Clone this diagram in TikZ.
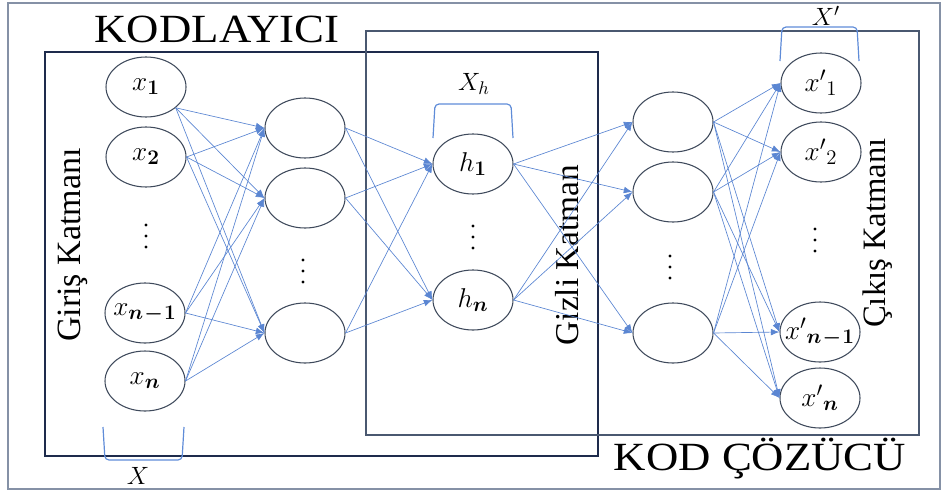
\RequirePackage{fix-cm}
\documentclass[tikz,border=0pt]{standalone}
\usepackage{amsmath}
\usepackage{fontspec}
\newfontfamily\tnr{Liberation Serif}
\usetikzlibrary{shapes.geometric,arrows.meta}
\DeclareMathSizes{17}{17}{13}{10}
\DeclareMathSizes{15}{15}{11}{9}

\definecolor{nodegray}{HTML}{3F4A5C}
\definecolor{linkblue}{HTML}{5B86D2}
\definecolor{bracketblue}{HTML}{5F8CD8}
\definecolor{encframe}{HTML}{1E2B4C}
\definecolor{decframe}{HTML}{4A5870}
\definecolor{outerframe}{HTML}{8591A6}

% enlarged math labels; neuron labels take no width so every ellipse keeps its size
\newcommand\neulab[1]{\makebox[0pt]{\scalebox{1.2}{$#1$}}}
\newcommand\setlab[1]{\scalebox{1.25}{$#1$}}
\newcommand\nmone{\boldsymbol{n}\mskip1mu\boldsymbol{-}\mskip1mu\boldsymbol{1}}

\begin{document}
\begin{tikzpicture}[x=0.75pt,y=-0.75pt,
  neuron/.style={ellipse,draw=nodegray,line width=0.8pt,fill=white,
    minimum width=60pt,minimum height=45pt,inner sep=0pt,
    font=\fontsize{17}{20}\selectfont},
  link/.style={draw=linkblue,line width=0.5pt,-{Latex[length=6.5pt,width=5pt]}},
  brace/.style={draw=bracketblue,line width=0.9pt,rounded corners=3pt},
  setlabel/.style={font=\fontsize{15}{18}\selectfont,inner sep=0pt},
  title/.style={font=\tnr,inner sep=0pt,anchor=base},
  sidelabel/.style={font=\tnr,inner sep=0pt,anchor=base,rotate=90},
  dotfill/.style={fill=black}]

\useasboundingbox (0,0) rectangle (946,493);

% frames
\draw[outerframe,line width=1.6pt] (8,3) rectangle (940,489);
\draw[encframe,line width=0.9pt] (45,52) rectangle (598,456);
\draw[decframe,line width=1.2pt] (366,31) rectangle (919,435);

% titles
\node[title] (enc) at (217,42) {\scalebox{1.12}[1]{\fontsize{30}{36}\selectfont KODLAYICI}};
\node[title] (dec) at (760,470) {\scalebox{1.12}[1]{\fontsize{30}{36}\selectfont KOD ÇÖZÜCÜ}};

% side labels
\node[sidelabel] (lin) at (80,245) {\fontsize{25.5}{30}\selectfont Giriş Katmanı};
\node[sidelabel] (lhid) at (578,255) {\fontsize{25}{30}\selectfont Gizli Katman};
\node[sidelabel] (lout) at (885,233) {\fontsize{24.5}{30}\selectfont Çıkış Katmanı};

% input layer
\node[neuron] (x1) at (146,87) {\neulab{x_{\boldsymbol{1}}}};
\node[neuron] (x2) at (146,157) {\neulab{x_{\boldsymbol{2}}}};
\node[neuron] (xm) at (145,313) {\neulab{x_{\nmone}}};
\node[neuron] (xn) at (145,381) {\neulab{x_{\boldsymbol{n}}}};

% encoder hidden layer
\node[neuron] (a1) at (305,128) {};
\node[neuron] (a2) at (305,198) {};
\node[neuron] (a3) at (305,333) {};

% code layer
\node[neuron] (h1) at (473,164) {\neulab{h_{\boldsymbol{1}}}};
\node[neuron] (hn) at (473,300) {\neulab{h_{\boldsymbol{n}}}};

% decoder hidden layer
\node[neuron] (b1) at (673,122) {};
\node[neuron] (b2) at (673,192) {};
\node[neuron] (b3) at (673,333) {};

% output layer
\node[neuron] (y1) at (821,83) {\neulab{{x'}_{1}}};
\node[neuron] (y2) at (821,152) {\neulab{{x'}_{2}}};
\node[neuron] (ym) at (820,332) {\neulab{{x'}_{\nmone}}};
\node[neuron] (yn) at (820,398) {\neulab{{x'}_{\boldsymbol{n}}}};

% vertical ellipses
\foreach \cx/\cy in {146/236, 303/271, 473/237, 670/267, 815/240}
  \foreach \d in {-11,0,11}
    \fill[dotfill] (\cx,\cy+\d) circle (1.3pt);

% connections
\foreach \s in {x1.-35,x2.east,xm.east,xn.east}
  \foreach \t in {a1,a2,a3}
    \draw[link] (\s) -- (\t.west);
\foreach \s in {a1,a2,a3}
  \foreach \t in {h1,hn}
    \draw[link] (\s.east) -- (\t.west);
\foreach \s in {h1,hn}
  \foreach \t in {b1,b2,b3}
    \draw[link] (\s.east) -- (\t.west);
\foreach \s in {b1,b2,b3}
  \foreach \t in {y1,y2,ym,yn}
    \draw[link] (\s.east) -- (\t.west);

% set brackets and their labels
\draw[brace] (103,427) -- (105,460) -- (182,460) -- (184,427);
\node[setlabel] (lx) at (138,476) {\setlab{X}};
\draw[brace] (433,138) -- (435,104) -- (511,104) -- (513,138);
\node[setlabel] (lxh) at (474,84) {\setlab{X_h}};
\draw[brace] (780,61) -- (782,27) -- (857,27) -- (859,61);
\node[setlabel] (lxp) at (826,16) {\setlab{X'}};

\end{tikzpicture}
\end{document}
